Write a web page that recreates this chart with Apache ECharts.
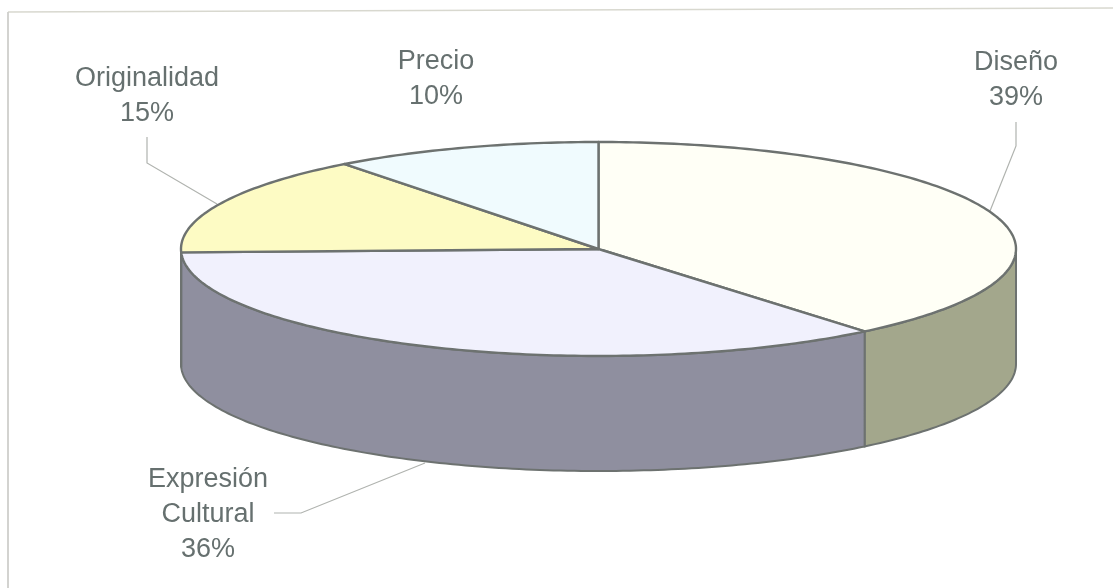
<!DOCTYPE html>
<html><head><meta charset="utf-8">
<style>html,body{margin:0;padding:0;background:#fff}#c{width:1113px;height:588px}</style>
<script src="https://cdn.jsdelivr.net/npm/echarts@6/dist/echarts.min.js"></script>
</head><body><div id="c"></div>
<script>
const categories = ['Diseño', 'Expresión\nCultural', 'Originalidad', 'Precio'];
const values = [39, 35.5, 15.1, 10.4];
const topColors = ['#fffff6', '#f1f1fd', '#fdfbc4', '#f0fbfe'];
const sideColors = ['#a3a78c', '#8f8f9f', '#8f8f9f', '#8a9a9f'];
const labelPositions = [[1016, 80], [208, 515], [147, 96], [436, 79]];

const cx = 598.5, cy = 249, rx = 417.5, ry = 107, depth = 115;
const edge = '#6d7270';
const total = values.reduce((a, b) => a + b, 0);
const starts = [];
values.reduce((acc, v, i) => { starts[i] = acc; return acc + v; }, 0);

function pt(t, dy) { return [cx + rx * Math.sin(t), cy - ry * Math.cos(t) + (dy || 0)]; }
function arc(t0, t1, dy) {
  const n = Math.max(2, Math.ceil((t1 - t0) * 60)), out = [];
  for (let k = 0; k <= n; k++) out.push(pt(t0 + (t1 - t0) * k / n, dy));
  return out;
}
function angles(i) {
  return [starts[i] / total * 2 * Math.PI, (starts[i] + values[i]) / total * 2 * Math.PI];
}
function renderSide(params) {
  const i = params.dataIndex, a = angles(i);
  const t0 = Math.max(a[0], Math.PI / 2), t1 = Math.min(a[1], 3 * Math.PI / 2);
  if (t1 <= t0) return { type: 'group', children: [] };
  const top = arc(t0, t1, 0), bottom = arc(t0, t1, depth).reverse();
  return { type: 'polygon', shape: { points: top.concat(bottom) },
    style: { fill: sideColors[i], stroke: edge, lineWidth: 2 } };
}
function renderTop(params) {
  const i = params.dataIndex, a = angles(i);
  const pts = [[cx, cy]].concat(arc(a[0], a[1], 0));
  return { type: 'polygon', shape: { points: pts },
    style: { fill: topColors[i], stroke: edge, lineWidth: 2.4, lineJoin: 'round' } };
}
const leaders = [
  [[990, 211], [1016, 146], [1016, 122]],
  [[425, 463], [301, 513], [274, 513]],
  [[217, 204], [147, 163], [147, 137]]
];
const text = categories.map((c, i) => ({
  type: 'text', x: labelPositions[i][0], y: labelPositions[i][1], silent: true,
  style: { text: c + '\n' + Math.round(values[i]) + '%', fill: '#66706f', align: 'center', verticalAlign: 'middle',
    font: '27px "Liberation Sans"', lineHeight: 35 }
}));
const lines = leaders.map(p => ({ type: 'polyline', shape: { points: p }, silent: true,
  style: { stroke: '#b0b3af', lineWidth: 1.2, fill: null } }));
const frame = [
  { type: 'line', silent: true, shape: { x1: 8, y1: 12, x2: 1113, y2: 8 }, style: { stroke: '#d8d8cf', lineWidth: 1.5 } },
  { type: 'line', silent: true, shape: { x1: 8, y1: 12, x2: 8, y2: 588 }, style: { stroke: '#cfcfcb', lineWidth: 1.8 } }
];
const chart = echarts.init(document.getElementById('c'), null, { renderer: 'canvas' });
chart.setOption({
  animation: false,
  backgroundColor: '#ffffff',
  graphic: frame.concat(lines, text),
  series: [
    { type: 'custom', coordinateSystem: 'none', renderItem: renderSide, data: values, z: 2, silent: true },
    { type: 'custom', coordinateSystem: 'none', renderItem: renderTop, data: values, z: 3, silent: true }
  ]
});
</script></body></html>
